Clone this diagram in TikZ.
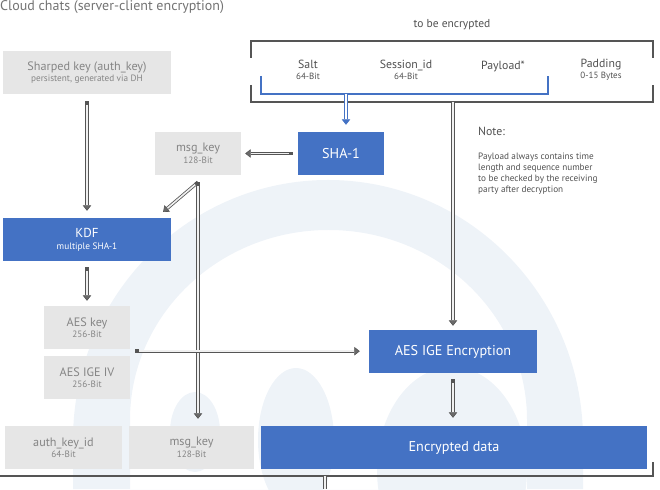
\documentclass[tikz,border=0pt]{standalone}
\usepackage{fontspec}
\setmainfont{PT Sans}
\usetikzlibrary{arrows.meta}
\definecolor{tgblue}{HTML}{4472C4}
\definecolor{boxgray}{HTML}{E6E6E6}
\definecolor{boxtext}{HTML}{858585}
\definecolor{linegray}{HTML}{555555}
\definecolor{linefill}{HTML}{F0F0F0}
\definecolor{tipfill}{HTML}{6A6A6A}
\definecolor{bgtint}{HTML}{EEF3F8}
\definecolor{darktext}{HTML}{505050}
\definecolor{titlegray}{HTML}{737373}
\newcommand{\fsz}[2]{\fontsize{#1}{#2}\selectfont}
\begin{document}
\begin{tikzpicture}[x=1pt,y=1pt,
  graybox/.style={fill=boxgray, text=boxtext, minimum height=43pt, inner sep=0pt, align=center, font=\fsz{9.2}{11.5}},
  bluebox/.style={fill=tgblue, text=white, minimum height=43pt, inner sep=0pt, align=center, font=\fsz{14.2}{13}},
  field/.style={text=darktext, align=center, inner sep=0pt, font=\fsz{9}{11}},
  connbase/.style={draw=linegray, line width=0.8pt, double=linefill, double distance=1.6pt},
  tiphead/.style={-{Triangle[length=5.5pt,width=8.5pt,line width=0.6pt,fill=tipfill]}},
  conn/.style={connbase, {Square[length=3.5pt,width=3.5pt]}-{Triangle[length=5.5pt,width=8.5pt,line width=0.6pt,fill=tipfill]}},
  connend/.style={connbase, tiphead},
  bluearrow/.style={draw=tgblue, line width=0.8pt, double=white, double distance=1.6pt, -{Triangle[length=5.5pt,width=8.5pt,line width=0.6pt,fill=tgblue]}},
  framestyle/.style={draw=linegray, line width=2.5pt},
  bluebracket/.style={draw=tgblue, line width=2pt}
]
\useasboundingbox (0,0) rectangle (660,489);
% background logo
\begin{scope}
  \clip (0,0) rectangle (660,489);
  \fill[bgtint, even odd rule]
    (73,0) -- (73,49) arc[start angle=180,end angle=0,x radius=255,y radius=260] -- (583,0) -- cycle
    (130,0) -- (130,69) arc[start angle=180,end angle=0,x radius=198.5,y radius=190] -- (527,0) -- cycle;
  \fill[bgtint] (195,57) ellipse[x radius=25,y radius=40];
  \fill[bgtint] (296,49) ellipse[x radius=38,y radius=72];
  \fill[bgtint] (452,19) ellipse[x radius=75,y radius=103];
\end{scope}

% title
\node[anchor=west, inner sep=0pt, text=titlegray, font=\fsz{14}{14}] (title) at (0,482) {Cloud chats (server-client encryption)};

% to be encrypted frame
\node[text=darktext, inner sep=0pt, font=\fsz{11.5}{12}] (tbe) at (452,464) {to be encrypted};
\draw[framestyle] (251,431) -- (251,448) -- (653,448) -- (653,431);
\draw[framestyle] (251,404) -- (251,387) -- (653,387) -- (653,404);
\node[field] (salt) at (308,419) {{\fsz{11.8}{11}Salt}\\64-Bit};
\node[field] (sessid) at (406,419) {{\fsz{11.8}{11}Session\_id}\\64-Bit};
\node[field, font=\fsz{11.8}{11}] (payload) at (503,423) {Payload*};
\node[field] (padding) at (601,419) {{\fsz{11.8}{11}Padding}\\0-15 Bytes};
\draw[bluebracket] (261,413) -- (261,395) -- (548,395) -- (548,413);
\coordinate (bluemid) at (346,395);
\coordinate (framebot) at (453,387);

% boxes
\node[graybox, minimum width=168pt] (sharp) at (87,416.5) {{\fsz{12.2}{11.5}Sharped key (auth\_key)}\\persistent, generated via DH};
\node[graybox, minimum width=86pt] (msgk1) at (198,335.5) {{\fsz{12.2}{11.5}msg\_key}\\128-Bit};
\node[bluebox, minimum width=86pt] (sha) at (341,335.5) {SHA-1};
\node[bluebox, minimum width=168pt, font=\fsz{9.3}{12}] (kdf) at (87,249.5) {{\fsz{13}{12}KDF}\\multiple SHA-1};
\node[graybox, minimum width=86pt] (aeskey) at (87,161.5) {{\fsz{12.2}{11.5}AES key}\\256-Bit};
\node[graybox, minimum width=86pt] (aesiv) at (87,111.5) {{\fsz{12.2}{11.5}AES IGE IV}\\256-Bit};
\node[graybox, minimum width=117pt] (authid) at (63.5,41.5) {{\fsz{12.2}{11.5}auth\_key\_id}\\64-Bit};
\node[graybox, minimum width=125pt] (msgk2) at (191.5,41.5) {{\fsz{12.2}{11.5}msg\_key}\\128-Bit};
\node[bluebox, minimum width=386pt] (enc) at (454,41.5) {Encrypted data};
\node[bluebox, minimum width=168pt] (aesige) at (453,137.5) {AES IGE Encryption};

% note
\node[anchor=west, inner sep=0pt, text=darktext, font=\fsz{11.8}{12}] (note) at (478,358) {Note:};
\node[anchor=west, inner sep=0pt, text=darktext, align=left, font=\fsz{9.2}{11}] (notebody) at (478,315.5) {Payload always contains time\\length and sequence number\\to be checked by the receiving\\party after decryption};

% connectors
\draw[bluearrow, shorten >=7pt] (bluemid) -- (bluemid |- sha.north);
\draw[conn, shorten <=7pt, shorten >=7pt] (sharp) -- (kdf);
\draw[conn, shorten <=5pt, shorten >=4pt] (sha) -- (msgk1);
\coordinate (split) at ([yshift=-7pt]msgk1.south);
\draw[conn, shorten >=9pt] (split) -- ([xshift=-15pt]kdf.north east);
\draw[conn, shorten >=7pt] (split) -- (split |- msgk2.north);
\draw[conn, shorten <=6pt, shorten >=5pt] (kdf) -- (aeskey);
\coordinate (aesmid) at ([shift={(5pt,-2pt)}]aeskey.south east);
\draw[conn, shorten >=9pt] (aesmid) -- (aesmid -| aesige.west);
\draw[connend, shorten >=4pt] (framebot) -- (framebot |- aesige.north);
\draw[conn, shorten <=6pt, shorten >=8pt] (aesige.south) -- (aesige.south |- enc.north);

% lower frame
\draw[framestyle, line width=2pt] (0,13) -- (653,13) -- (653,27);
\draw[connbase] (325,13) -- (325,0);
\end{tikzpicture}
\end{document}
